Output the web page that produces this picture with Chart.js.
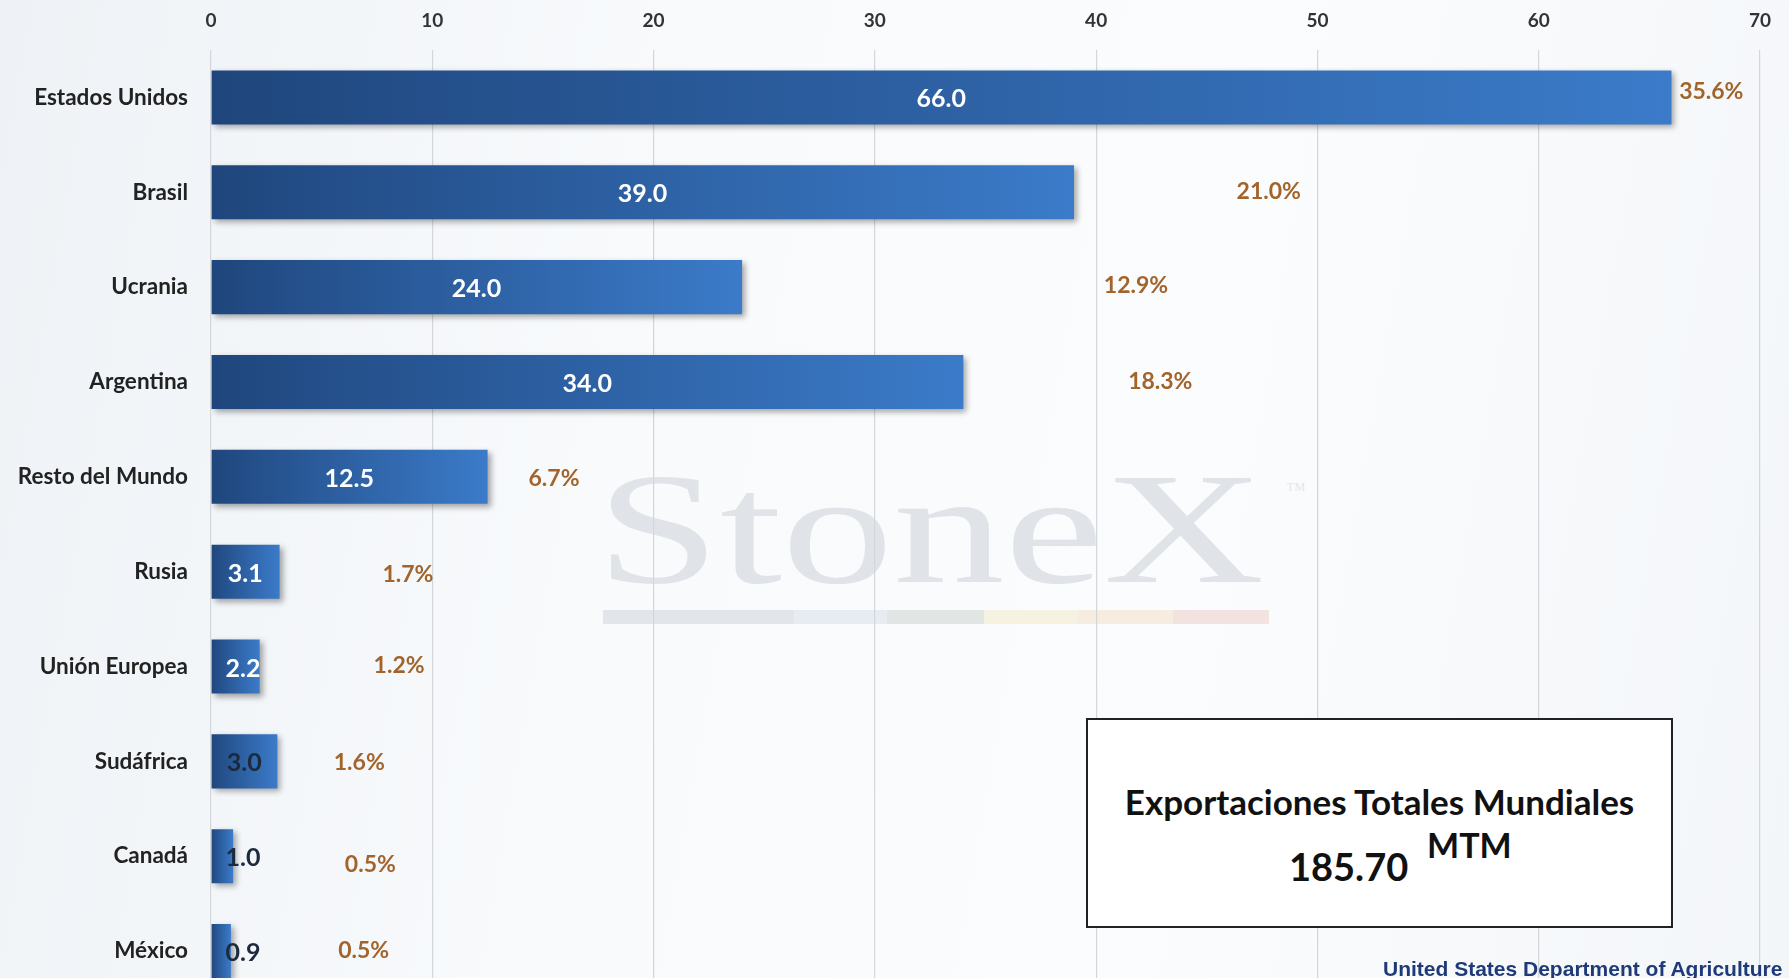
<!DOCTYPE html>
<html>
<head>
<meta charset="utf-8">
<script src="https://cdn.jsdelivr.net/npm/chart.js@4"></script>
<style>
  html, body { margin: 0; padding: 0; width: 1789px; height: 978px; overflow: hidden; }
  body {
    position: relative;
    background: linear-gradient(100deg, #eef2f6 0%, #f8fafc 35%, #fbfcfd 65%, #f3f6f9 100%);
    font-family: Lato, "Open Sans", sans-serif;
  }
  #wrap { position: absolute; left: 0; top: 0; width: 1789px; height: 1027px; }
  .wm {
    position: absolute; left: 596px; top: 450px; font-family: "Liberation Serif", "DejaVu Serif", serif;
    font-size: 158px; line-height: 158px; color: #e0e3e7; white-space: nowrap;
    transform: scaleX(1.41); transform-origin: left top;
  }
  .tm { position: absolute; left: 1286px; top: 478px; font-family: "Liberation Serif", serif; font-size: 20px; color: #e6e8eb; }
  .wmbar { position: absolute; top: 610px; height: 14px; }
  .box {
    position: absolute; left: 1086px; top: 718px; width: 583px; height: 206px;
    border: 2px solid #222; background: #fff; z-index: 2;
  }
  .usda {
    position: absolute; left: 1383px; top: 957px; font-family: "Liberation Sans", Arial, sans-serif;
    font-weight: bold; font-size: 21px; color: #1f3a78; z-index: 2; white-space: nowrap;
  }
</style>
</head>
<body>
<div class="wm">StoneX</div>
<div class="tm">™</div>
<div class="wmbar" style="left:603px;width:191px;background:#e2e5e9"></div>
<div class="wmbar" style="left:794px;width:93px;background:#e7ecf3"></div>
<div class="wmbar" style="left:887px;width:97px;background:#e1e6e4"></div>
<div class="wmbar" style="left:984px;width:94px;background:#f6f2e2"></div>
<div class="wmbar" style="left:1078px;width:95px;background:#f6ecdf"></div>
<div class="wmbar" style="left:1173px;width:96px;background:#f2e3e1"></div>
<div id="wrap"><canvas id="chart" width="1789" height="1027"></canvas></div>
<div class="box">
  <div style="position:absolute;left:0;width:100%;top:60px;text-align:center;font-weight:bold;font-size:35px;color:#111">Exportaciones Totales Mundiales</div>
  <div style="position:absolute;left:201px;top:123px;font-weight:bold;font-size:38px;color:#111">185.70</div>
  <div style="position:absolute;left:339px;top:104px;font-weight:bold;font-size:34px;color:#111">MTM</div>
</div>
<div class="usda">United States Department of Agriculture</div>

<script>
const paises = ["Estados Unidos", "Brasil", "Ucrania", "Argentina", "Resto del Mundo",
                "Rusia", "Unión Europea", "Sudáfrica", "Canadá", "México"];
const exportaciones = [66.0, 39.0, 24.0, 34.0, 12.5, 3.1, 2.2, 3.0, 1.0, 0.9];
const participacion = ["35.6%", "21.0%", "12.9%", "18.3%", "6.7%", "1.7%", "1.2%", "1.6%", "0.5%", "0.5%"];
const ticksX = [0, 10, 20, 30, 40, 50, 60, 70];

// where the % labels sit (axis units) and their small vertical shift, as in the original slide
const pctEnX = [67.8, 47.8, 41.8, 42.9, 15.5, 8.9, 8.5, 6.7, 7.2, 6.9];
const pctDy = [-6, -1, -2, 0, 2, 3, -1, 1, 8, 0];
const colorValor = ["#fff", "#fff", "#fff", "#fff", "#fff", "#fff", "#fff", "#1b2a3c", "#1b2a3c", "#1b2a3c"];

const sombra = {
    id: "sombra",
    beforeDatasetsDraw(chart) {
        const ctx = chart.ctx;
        ctx.save();
        ctx.shadowColor = "rgba(0,0,0,0.35)";
        ctx.shadowBlur = 6;
        ctx.shadowOffsetX = 3;
        ctx.shadowOffsetY = 3;
    },
    afterDatasetsDraw(chart) {
        chart.ctx.restore();
    }
};

const etiquetas = {
    id: "etiquetas",
    afterDatasetsDraw(chart) {
        const ctx = chart.ctx;
        const x = chart.scales.x;
        const x0 = x.getPixelForValue(0);
        const bars = chart.getDatasetMeta(0).data;
        ctx.save();
        ctx.textBaseline = "middle";
        ctx.textAlign = "center";
        bars.forEach((b, i) => {
            ctx.font = "bold 25px Lato, sans-serif";
            ctx.fillStyle = colorValor[i];
            const cx = Math.max((x0 + b.x) / 2, x0 + 32);
            ctx.fillText(exportaciones[i].toFixed(1), cx, b.y + 2);

            ctx.font = "bold 23px Lato, sans-serif";
            ctx.fillStyle = "#a3642c";
            ctx.fillText(participacion[i], x.getPixelForValue(pctEnX[i]), b.y + pctDy[i]);
        });
        ctx.restore();
    }
};

new Chart(document.getElementById("chart"), {
    type: "bar",
    data: {
        labels: paises,
        datasets: [{
            data: exportaciones,
            backgroundColor: (c) => {
                const chart = c.chart;
                if (!chart.chartArea) return "#2f64a8";
                const x = chart.scales.x;
                const a = x.getPixelForValue(0);
                const b = x.getPixelForValue(c.raw);
                const g = chart.ctx.createLinearGradient(a, 0, Math.max(b, a + 1), 0);
                g.addColorStop(0, "#1f467c");
                g.addColorStop(0.15, "#244f8a");
                g.addColorStop(1, "#3b7bc9");
                return g;
            },
            borderWidth: 0,
            barPercentage: 0.57,
            categoryPercentage: 1
        }]
    },
    options: {
        indexAxis: "y",
        responsive: false,
        animation: false,
        layout: { padding: { top: 0, right: 29, bottom: 2, left: 0 } },
        plugins: { legend: { display: false }, tooltip: { enabled: false } },
        scales: {
            x: {
                position: "top",
                min: 0,
                max: 70,
                afterBuildTicks: (s) => { s.ticks = ticksX.map(v => ({ value: v })); },
                afterFit: (s) => { s.height = 50; },
                grid: { color: "#d3d7dc", lineWidth: 1.2, drawTicks: false },
                border: { display: false },
                ticks: { padding: 18, color: "#333", font: { family: "Lato", weight: "bold", size: 19 } }
            },
            y: {
                afterFit: (s) => { s.width = 211; },
                grid: { display: false },
                border: { display: false },
                ticks: { padding: 15, color: "#222", font: { family: "Lato", weight: "bold", size: 22.5 } }
            }
        }
    },
    plugins: [sombra, etiquetas]
});
</script>
</body>
</html>
